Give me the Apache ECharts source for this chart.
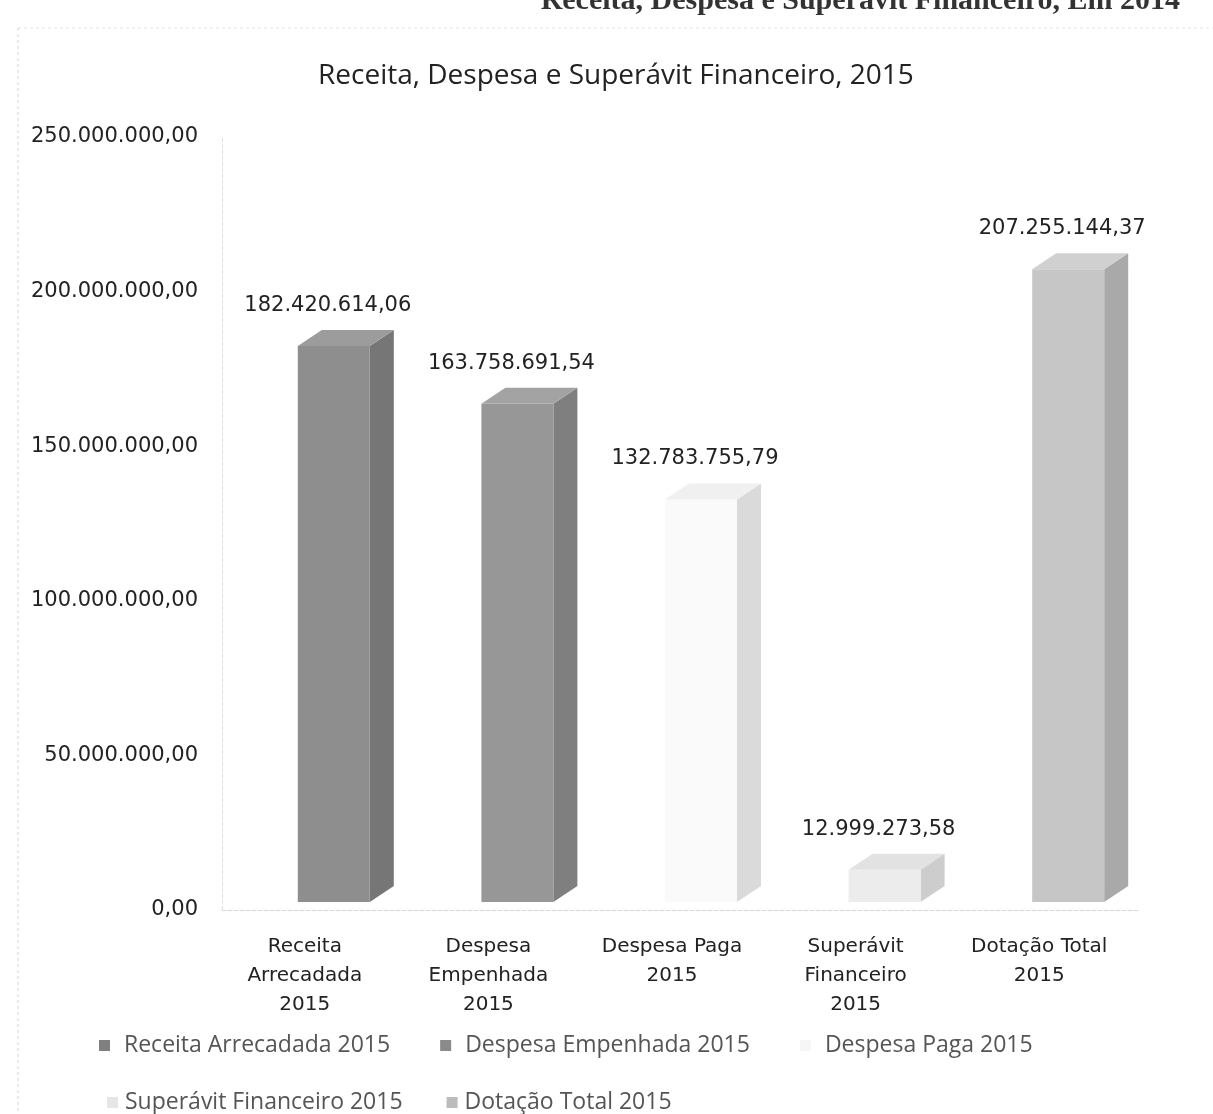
<!DOCTYPE html>
<html>
<head>
<meta charset="utf-8">
<script src="https://cdn.jsdelivr.net/npm/echarts@6/dist/echarts.min.js"></script>
<style>
  html, body { margin: 0; padding: 0; background: #fff; }
  #main { width: 1213px; height: 1114px; }
</style>
</head>
<body>
<div id="main"></div>
<script>
    var categories = ['Receita Arrecadada 2015', 'Despesa Empenhada 2015', 'Despesa Paga 2015', 'Superávit Financeiro 2015', 'Dotação Total 2015'];
    var tickLabels = ['Receita\nArrecadada\n2015', 'Despesa\nEmpenhada\n2015', 'Despesa Paga\n2015', 'Superávit\nFinanceiro\n2015', 'Dotação Total\n2015'];
    var values = [182420614.06, 163758691.54, 132783755.79, 12999273.58, 207255144.37];
    var yTicks = [0, 50000000, 100000000, 150000000, 200000000, 250000000];

    // cores das faces: frente, lado, topo
    var faces = [
        ['#8e8e8e', '#767676', '#9c9c9c'],
        ['#979797', '#7f7f7f', '#a3a3a3'],
        ['#fafafa', '#dadada', '#f0f0f0'],
        ['#ececec', '#cdcdcd', '#e2e2e2'],
        ['#c6c6c6', '#a9a9a9', '#d0d0d0']
    ];
    var legendColors = ['#808080', '#8a8a8a', '#f6f6f6', '#e6e6e6', '#bcbcbc'];

    // formato pt-BR: 182.420.614,06
    function fmt(v) {
        var parts = Number(v).toFixed(2).split('.');
        var int = parts[0].replace(/\B(?=(\d{3})+(?!\d))/g, '.');
        return int + ',' + parts[1];
    }

    function renderBox(params, api) {
        var idx = api.value(0);
        var top = api.coord([idx, api.value(1)]);
        var base = api.coord([idx, 0]);
        var w = 72, dx = 24, dy = 16, off = 20, lift = 8;
        var x0 = top[0] + off - w / 2, x1 = x0 + w;
        var yt = top[1], yb = base[1] - lift;
        var c = faces[idx];
        return {
            type: 'group',
            children: [
                { type: 'polygon', shape: { points: [[x1, yt], [x1 + dx, yt - dy], [x1 + dx, yb - dy], [x1, yb]] }, style: { fill: c[1] } },
                { type: 'rect', shape: { x: x0, y: yt, width: w, height: yb - yt }, style: { fill: c[0] } },
                { type: 'polygon', shape: { points: [[x0, yt], [x0 + dx, yt - dy], [x1 + dx, yt - dy], [x1, yt]] }, style: { fill: c[2] } },
                { type: 'text', x: x0 + w / 2 - 6, y: yt - dy - 14,
                  style: { text: fmt(api.value(1)), font: '21px "DejaVu Sans"', fill: '#222', align: 'center', verticalAlign: 'bottom' } }
            ]
        };
    }

    var series = [];
    for (var i = 0; i < categories.length; i++) {
        series.push({
            name: categories[i],
            type: 'custom',
            renderItem: renderBox,
            itemStyle: { color: legendColors[i] },
            encode: { x: 0, y: 1 },
            data: [[i, values[i]]],
            animation: false
        });
    }

    var myChart = echarts.init(document.getElementById('main'));
    var option = {
        backgroundColor: '#fff',
        title: {
            text: 'Receita, Despesa e Superávit Financeiro, 2015',
            left: 313,
            top: 57,
            textStyle: { fontFamily: 'Open Sans', fontSize: 28, fontWeight: 'normal', color: '#222' }
        },
        graphic: [
            { type: 'text', right: 33, top: -14,
              style: { text: 'Receita, Despesa e Superávit Financeiro, Em 2014', font: 'bold 30px "Liberation Serif"', fill: '#333' } },
            { type: 'line', shape: { x1: 18, y1: 28, x2: 1213, y2: 28 }, style: { stroke: '#e4e4e4', lineWidth: 1, lineDash: [3, 3] } },
            { type: 'line', shape: { x1: 18, y1: 28, x2: 18, y2: 1114 }, style: { stroke: '#d6d6d6', lineWidth: 1, lineDash: [3, 3] } }
        ],
        legend: [
            {
                data: categories.slice(0, 3),
                left: 94, top: 1029,
                itemWidth: 11, itemHeight: 11, itemGap: 50,
                icon: 'rect',
                textStyle: { fontFamily: 'Open Sans', fontSize: 23, color: '#555', padding: [0, 0, 0, 9] }
            },
            {
                data: categories.slice(3),
                left: 102, top: 1086,
                itemWidth: 11, itemHeight: 11, itemGap: 44,
                icon: 'rect',
                textStyle: { fontFamily: 'Open Sans', fontSize: 23, color: '#555', padding: [0, 0, 0, 2] }
            }
        ],
        grid: { left: 222, right: 73, top: 137, bottom: 204 },
        xAxis: {
            type: 'category',
            data: categories,
            axisLine: { lineStyle: { color: '#d8d8d8', type: 'dashed' } },
            axisTick: { show: false },
            axisLabel: {
                margin: 22,
                interval: 0,
                lineHeight: 29,
                padding: [0, 18, 0, 0],
                fontFamily: 'DejaVu Sans',
                fontSize: 20,
                color: '#222',
                formatter: function (v, i) { return tickLabels[i]; }
            }
        },
        yAxis: {
            type: 'value',
            min: yTicks[0],
            max: yTicks[yTicks.length - 1],
            interval: yTicks[1] - yTicks[0],
            axisLine: { show: true, lineStyle: { color: '#e2e2e2', type: 'dashed' } },
            axisTick: { show: false },
            splitLine: { show: false },
            axisLabel: {
                margin: 24,
                fontFamily: 'DejaVu Sans',
                fontSize: 21,
                color: '#222',
                formatter: function (v) { return fmt(v); }
            }
        },
        series: series
    };
    myChart.setOption(option);
</script>
</body>
</html>
